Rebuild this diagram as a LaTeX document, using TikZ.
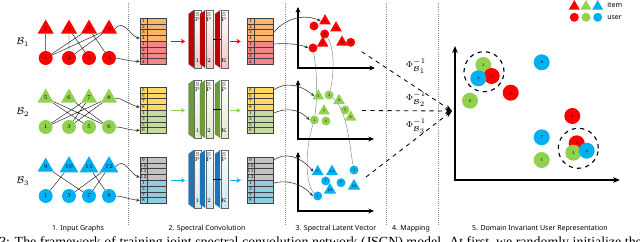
\documentclass[tikz,border=0pt]{standalone}
\usepackage{fontspec}
\usepackage{amsmath}
\usetikzlibrary{arrows.meta, positioning, shapes.geometric, calc, backgrounds}
\newfontfamily\labfont{Noto Sans}
\newfontfamily\capfont{Liberation Serif}
\definecolor{itemRed}{HTML}{FF0000}
\definecolor{itemGreen}{HTML}{92D050}
\definecolor{itemBlue}{HTML}{00B0F0}
\definecolor{matOrange}{HTML}{FAB46E}
\definecolor{matRed}{HTML}{F4868A}
\definecolor{matYellow}{HTML}{FFD966}
\definecolor{matGreen}{HTML}{C6D9A0}
\definecolor{matGray}{HTML}{C3C3C3}
\definecolor{matBlue}{HTML}{93CDDD}
\definecolor{convRed}{HTML}{C00000}
\definecolor{convRedL}{HTML}{F2C4C4}
\definecolor{convGreen}{HTML}{6E9B35}
\definecolor{convGreenL}{HTML}{DDEBC9}
\definecolor{convBlue}{HTML}{1B75BB}
\definecolor{convBlueL}{HTML}{C9E6F2}
\definecolor{sepGray}{HTML}{8C8C8C}

% spectral matrix: name, left x, top y, item ids, user ids, item colour, user colour
\newcommand{\specmat}[7]{%
  \foreach \lab [count=\k] in {#4} {
    \node[idxcell, fill=#6] (#1-\k) at (#2+3.5, {#3+(\k-0.5)*5.8}) {\lab};
    \node[datcell, fill=#6, anchor=west] (#1-d\k) at (#1-\k.east) {};
  }
  \foreach \lab [count=\k from 5] in {#5} {
    \node[idxcell, fill=#7] (#1-\k) at (#2+3.5, {#3+(\k-0.5)*5.8}) {\lab};
    \node[datcell, fill=#7, anchor=west] (#1-d\k) at (#1-\k.east) {};
  }
}
% conv layer: name, front x, top y, side colour, face colour, index
\newcommand{\convlayer}[6]{%
  \filldraw[fill=#4, draw=black!60, line width=0.2pt] (#2-5.5,#3+4) -- (#2,#3) -- (#2,#3+58) -- (#2-5.5,#3+54) -- cycle;
  \node[convface, top color=white, bottom color=#5, anchor=north west] (#1) at (#2,#3) {};
  \node (#1-s) at (#2+3.5,#3+5) {S};
  \node (#1-p) at (#2+3.5,#3+10) {P};
  \node (#1-k) at (#2+3.5,#3+51) {#6};
}

\begin{document}
\begin{tikzpicture}[x=0.025cm, y=-0.025cm,
    every node/.style={font=\fontsize{4}{4}\selectfont, inner sep=0pt},
    usr/.style={circle, minimum size=0.35cm},
    itm/.style={regular polygon, regular polygon sides=3, minimum size=0.47cm},
    pusr/.style={circle, minimum size=0.225cm, font=\fontsize{2.6}{3}\selectfont},
    pitm/.style={regular polygon, regular polygon sides=3, minimum size=0.34cm, font=\fontsize{2.6}{3}\selectfont},
    rusr/.style={circle, minimum size=0.4cm, font=\fontsize{3}{3}\selectfont},
    idxcell/.style={draw=black!75, line width=0.3pt, minimum width=0.175cm, minimum height=0.145cm, font=\fontsize{3.2}{3}\selectfont},
    datcell/.style={draw=black!75, line width=0.3pt, minimum width=0.475cm, minimum height=0.145cm},
    convface/.style={draw=black!60, line width=0.2pt, minimum width=0.175cm, minimum height=1.45cm},
    gline/.style={black!85, line width=0.35pt},
    feedarrow/.style={black!80, line width=0.4pt, -{Stealth[length=2.5pt, width=2.2pt]}},
    samelink/.style={black!45, line width=0.35pt},
    plotaxis/.style={line width=1.1pt, {Stealth[length=4pt, width=3.5pt]}-{Stealth[length=4pt, width=3.5pt]}},
    divider/.style={sepGray, line width=0.5pt, dash pattern=on 0.5pt off 1pt},
    mapline/.style={dashed, line width=0.6pt, -{Stealth[length=5pt, width=3.5pt]}},
    convarrow/.style={line width=0.9pt, -{Stealth[length=3pt, width=3.5pt]}},
    seclabel/.style={font=\labfont\fontsize{5}{6}\selectfont},
    ring/.style={circle, draw, dashed, line width=0.8pt, minimum size=1cm}
  ]
  \useasboundingbox (0,0) rectangle (640,242);
  \clip (0,0) rectangle (640,242);

  % stage separators
  \foreach \x in {128,285.5,386,438}
    \draw[divider] (\x,3) -- (\x,226);

  % 1. input graphs
  \foreach \x/\i/\u in {45.7/1/1, 69/2/2, 89/3/3, 109/4/4} {
    \node[itm, fill=itemRed] (gA-i\i) at (\x,29) {\i};
    \node[usr, fill=itemRed] (gA-u\u) at (\x,58) {\u};
  }
  \foreach \x/\i/\u in {45.7/5/1, 69/6/3, 89/7/5, 109/8/6} {
    \node[itm, fill=itemGreen] (gB-i\i) at (\x,98) {\i};
    \node[usr, fill=itemGreen] (gB-u\u) at (\x,127) {\u};
  }
  \foreach \x/\i/\u in {45.7/9/1, 69/10/3, 89/11/7, 109/12/8} {
    \node[itm, fill=itemBlue] (gC-i\i) at (\x,167) {\i};
    \node[usr, fill=itemBlue] (gC-u\u) at (\x,196) {\u};
  }
  \node[font=\fontsize{7}{7}\selectfont] (domA) at (23,42) {$\mathcal{B}_1$};
  \node[font=\fontsize{7}{7}\selectfont] (domB) at (23,112) {$\mathcal{B}_2$};
  \node[font=\fontsize{7}{7}\selectfont] (domC) at (23,181) {$\mathcal{B}_3$};

  \draw[gline] (gA-i1) -- (gA-u1) (gA-i2) -- (gA-u2) (gA-i2) -- (gA-u3) (gA-i3) -- (gA-u1)
    (gA-i3) -- (gA-u4) (gA-i4) -- (gA-u1) (gA-i4) -- (gA-u2);
  \draw[gline] (gB-i5) -- (gB-u5) (gB-i5) -- (gB-u6) (gB-i6) -- (gB-u6) (gB-i7) -- (gB-u1)
    (gB-i7) -- (gB-u3) (gB-i8) -- (gB-u1) (gB-i8) -- (gB-u3);
  \draw[gline] (gC-i9) -- (gC-u7) (gC-i10) -- (gC-u1) (gC-i11) -- (gC-u8) (gC-i12) -- (gC-u3)
    (gC-i12) -- (gC-u7);

  % 2. spectral convolution
  \specmat{inA}{140}{18}{1,2,3,4}{1,2,3,4}{matOrange}{matRed}
  \specmat{inB}{140}{87}{5,6,7,8}{1,3,5,6}{matYellow}{matGreen}
  \specmat{inC}{140}{157}{9,10,11,12}{1,3,7,8}{matGray}{matBlue}
  \specmat{outA}{247}{18}{1,2,3,4}{1,2,3,4}{matOrange}{matRed}
  \specmat{outB}{247}{87}{5,6,7,8}{1,3,5,6}{matYellow}{matGreen}
  \specmat{outC}{247}{157}{9,10,11,12}{1,3,7,8}{matGray}{matBlue}

  \draw[feedarrow] (gA-i4.east) .. controls (124,18) and (130,36) .. (inA-4.west);
  \draw[feedarrow] (gA-u4.east) .. controls (122,59) and (128,61) .. (inA-8.west);
  \draw[feedarrow] (gB-i8.east) .. controls (122,98) and (128,104) .. (inB-4.west);
  \draw[feedarrow] (gB-u6.east) .. controls (122,127) and (128,130) .. (inB-8.west);
  \draw[feedarrow] (gC-i12.east) .. controls (124,156) and (130,174) .. (inC-4.west);
  \draw[feedarrow] (gC-u8.east) .. controls (122,196) and (128,199) .. (inC-8.west);

  \convlayer{cA1}{194}{10}{convRed}{convRedL}{1}
  \convlayer{cA2}{205.5}{10}{convRed}{convRedL}{2}
  \convlayer{cA3}{220.5}{10}{convRed}{convRedL}{K}
  \convlayer{cB1}{194}{80}{convGreen}{convGreenL}{1}
  \convlayer{cB2}{205.5}{80}{convGreen}{convGreenL}{2}
  \convlayer{cB3}{220.5}{80}{convGreen}{convGreenL}{K}
  \convlayer{cC1}{194}{150}{convBlue}{convBlueL}{1}
  \convlayer{cC2}{205.5}{150}{convBlue}{convBlueL}{2}
  \convlayer{cC3}{220.5}{150}{convBlue}{convBlueL}{K}
  \draw[line width=0.4pt] (cA2.east) -- (cA3.west);
  \draw[line width=0.4pt] (cB2.east) -- (cB3.west);
  \draw[line width=0.4pt] (cC2.east) -- (cC3.west);

  \draw[convarrow, itemRed, shorten <=0.1cm, shorten >=0.22cm] (inA-d4.south east) -- (cA1.west |- inA-d4.south east);
  \draw[convarrow, itemRed, shorten <=0.05cm, shorten >=0.15cm] (cA3.east |- outA-4.south west) -- (outA-4.south west);
  \draw[convarrow, itemGreen, shorten <=0.1cm, shorten >=0.22cm] (inB-d4.south east) -- (cB1.west |- inB-d4.south east);
  \draw[convarrow, itemGreen, shorten <=0.05cm, shorten >=0.15cm] (cB3.east |- outB-4.south west) -- (outB-4.south west);
  \draw[convarrow, itemBlue, shorten <=0.1cm, shorten >=0.22cm] (inC-d4.south east) -- (cC1.west |- inC-d4.south east);
  \draw[convarrow, itemBlue, shorten <=0.05cm, shorten >=0.15cm] (cC3.east |- outC-4.south west) -- (outC-4.south west);

  % 3. spectral latent vectors
  \draw[plotaxis] (298,7) -- (298,68) -- (375,68);
  \draw[plotaxis] (298,80) -- (298,139) -- (374,139);
  \draw[plotaxis] (298,152) -- (298,211) -- (374,211);

  \node[pusr, fill=itemRed] (r-u4) at (314,26) {4};
  \node[pusr, fill=itemRed] (r-u3) at (324.7,34) {3};
  \node[pusr, fill=itemRed] (r-u1) at (313,48) {1};
  \node[pusr, fill=itemRed] (r-u2) at (350.7,42.3) {2};
  \node[pitm, fill=itemRed] (r-i1) at (325,21) {1};
  \node[pitm, fill=itemRed] (r-i2) at (336,28) {2};
  \node[pitm, fill=itemRed] (r-i3) at (322.7,43.3) {3};
  \node[pitm, fill=itemRed] (r-i4) at (342,42.3) {4};

  \node[pitm, fill=itemGreen] (g-i5) at (318.3,96) {5};
  \node[pusr, fill=itemGreen] (g-u3) at (329,95) {3};
  \node[pitm, fill=itemGreen] (g-i6) at (339,100.7) {6};
  \node[pitm, fill=itemGreen] (g-i7) at (324,111) {7};
  \node[pusr, fill=itemGreen] (g-u5) at (345,110) {5};
  \node[pusr, fill=itemGreen] (g-u1) at (314.3,120) {1};
  \node[pusr, fill=itemGreen] (g-u6) at (326,121) {6};
  \node[pitm, fill=itemGreen] (g-i8) at (350.7,117.3) {8};

  \node[pusr, fill=itemBlue] (b-u1) at (317.7,196) {1};
  \node[pusr, fill=itemBlue] (b-u7) at (325.7,181) {7};
  \node[pusr, fill=itemBlue] (b-u8) at (341,182.7) {8};
  \node[pusr, fill=itemBlue] (b-u3) at (354,170) {3};
  \node[pitm, fill=itemBlue] (b-i9) at (317.7,171.7) {9};
  \node[pitm, fill=itemBlue] (b-i11) at (332,171.7) {11};
  \node[pitm, fill=itemBlue] (b-i10) at (330,190) {10};
  \node[pitm, fill=itemBlue] (b-i12) at (354,186) {12};

  \begin{scope}[on background layer]
    \draw[samelink] (r-u1) .. controls (318,80) and (317,100) .. (g-u1);
    \draw[samelink] (g-u1) .. controls (305,150) and (305,185) .. (b-u1);
    \draw[samelink] (r-u3) .. controls (336,50) and (333,80) .. (g-u3);
    \draw[samelink] (g-u3) .. controls (348,110) and (350,150) .. (b-u3);
  \end{scope}

  \draw[feedarrow] (outA-d3.east) .. controls (282,22) and (300,12) .. (r-i1.west);
  \draw[feedarrow] (outA-d5.east) .. controls (285,43) and (300,44) .. (r-u1.west);
  \draw[feedarrow] (outB-d1.east) .. controls (285,82) and (300,84) .. (g-i5.west);
  \draw[feedarrow] (outB-d5.east) .. controls (285,108) and (298,108) .. (g-u1.west);
  \draw[feedarrow] (outC-d1.east) .. controls (285,152) and (300,156) .. (b-i9.west);
  \draw[feedarrow] (outC-d5.east) .. controls (285,180) and (300,182) .. (b-u1.west);

  % 4. mapping
  \coordinate (mapHub) at (452,111);
  \coordinate (mapA) at (361.7,51.7);
  \coordinate (mapB) at (362,110.5);
  \coordinate (mapC) at (366,177);
  \draw[mapline] (mapA) -- (mapHub);
  \draw[mapline] (mapB) -- (mapHub);
  \draw[mapline] (mapC) -- (mapHub);
  \node[font=\fontsize{6}{6}\selectfont] (phiA) at (416,66) {$\Phi_{\mathcal{B}_1}^{-1}$};
  \node[font=\fontsize{6}{6}\selectfont] (phiB) at (416,99) {$\Phi_{\mathcal{B}_2}^{-1}$};
  \node[font=\fontsize{6}{6}\selectfont] (phiC) at (416,126) {$\Phi_{\mathcal{B}_3}^{-1}$};

  % 5. domain invariant user representation
  \draw[line width=1.3pt, {Stealth[length=5pt, width=4pt]}-{Stealth[length=5pt, width=4pt]}] (455,46) -- (455,180) -- (620,180);
  \node[rusr, fill=itemGreen] (rep-g1) at (483.3,65) {1};
  \node[rusr, fill=itemRed] (rep-r1) at (491.7,76) {1};
  \node[rusr, fill=itemBlue] (rep-b1) at (478.3,78.3) {1};
  \node[rusr, fill=itemRed] (rep-r4) at (510.7,92.7) {4};
  \node[rusr, fill=itemBlue] (rep-b8) at (541.7,62.3) {8};
  \node[rusr, fill=itemGreen] (rep-g6) at (470,100.7) {6};
  \node[rusr, fill=itemRed] (rep-r2) at (572.3,116) {2};
  \node[rusr, fill=itemBlue] (rep-b7) at (541.7,137.3) {7};
  \node[rusr, fill=itemGreen] (rep-g5) at (541.7,160) {5};
  \node[rusr, fill=itemRed] (rep-r3) at (576.7,143.3) {3};
  \node[rusr, fill=itemGreen] (rep-g3) at (573.3,152.7) {3};
  \node[rusr, fill=itemBlue] (rep-b3) at (586.7,150.7) {3};
  \node[ring] (ring1) at (484,71.7) {};
  \node[ring] (ring2) at (578.3,148.3) {};

  % legend
  \node[pitm, minimum size=0.32cm, fill=itemRed] (keyI1) at (574.3,6.5) {};
  \node[pitm, minimum size=0.32cm, fill=itemGreen] (keyI2) at (586,6.5) {};
  \node[pitm, minimum size=0.32cm, fill=itemBlue] (keyI3) at (597.7,6.5) {};
  \node[pusr, fill=itemRed] (keyU1) at (574.3,17.3) {};
  \node[pusr, fill=itemGreen] (keyU2) at (586,17.3) {};
  \node[pusr, fill=itemBlue] (keyU3) at (597.7,17.3) {};
  \node[seclabel, anchor=west] (keyItem) at (607,5) {item};
  \node[seclabel, anchor=west] (keyUser) at (607,17.3) {user};

  % stage labels
  \node[seclabel] (sec1) at (78,229) {1. Input Graphs};
  \node[seclabel] (sec2) at (207,229) {2. Spectral Convolution};
  \node[seclabel] (sec3) at (336,229) {3. Spectral Latent Vector};
  \node[seclabel] (sec4) at (411,229) {4. Mapping};
  \node[seclabel] (sec5) at (540,229) {5. Domain Invariant User Representation};

  \node[anchor=base west, font=\capfont\fontsize{9.9}{11}\selectfont] (caption) at (-1,246.5)
    {3: The framework of training joint spectral convolution network (JSCN) model. At first, we randomly initialize the};
\end{tikzpicture}
\end{document}
